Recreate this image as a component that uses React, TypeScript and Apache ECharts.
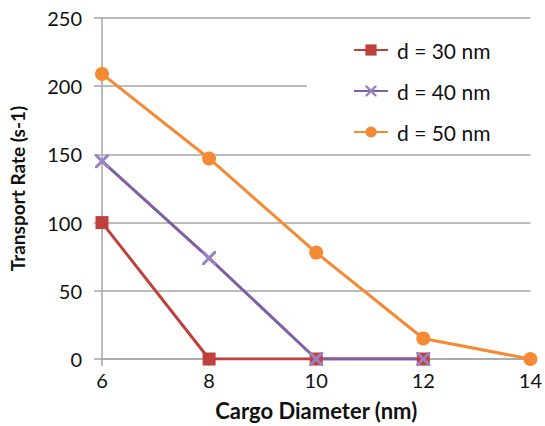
import React, { useEffect, useRef } from "react";
import * as echarts from "echarts";

const xValues = [6, 8, 10, 12, 14];
const seriesNames = ["d = 30 nm", "d = 40 nm", "d = 50 nm"];
const d30 = [100, 0, 0, 0];
const d40 = [145, 74, 0, 0];
const d50 = [209, 147, 78, 15, 0];
const colors = ["#C0403D", "#7E5FA3", "#F58A35"];

const xPath =
  "path://M0,0 L3,0 L10,7 L17,0 L20,0 L20,3 L13,10 L20,17 L20,20 L17,20 L10,13 L3,20 L0,20 L0,17 L7,10 L0,3 Z";

const pair = (vals: number[]) => vals.map((v, i) => [xValues[i], v]);

export default function App() {
  const ref = useRef<HTMLDivElement>(null);
  useEffect(() => {
    if (!ref.current) return;
    const chart = echarts.init(ref.current, undefined, { renderer: "svg" });
    const font = "Lato, 'Open Sans', sans-serif";
    chart.setOption({
      animation: false,
      backgroundColor: "#fff",
      grid: { left: 101, right: 13, top: 18, bottom: 67 },
      legend: {
        orient: "vertical",
        left: 307,
        top: 30,
        padding: [8, 60, 4, 46],
        backgroundColor: "#fff",
        itemWidth: 34,
        itemHeight: 14,
        itemGap: 17,
        textStyle: {
          fontFamily: font,
          fontSize: 21,
          lineHeight: 24,
          color: "#111",
          padding: [0, 0, 0, 4],
        },
        data: seriesNames,
      },
      xAxis: {
        type: "value",
        min: 6,
        max: 14,
        interval: 2,
        name: "Cargo Diameter (nm)",
        nameLocation: "middle",
        nameGap: 40,
        nameTextStyle: { fontFamily: font, fontSize: 22, fontWeight: "bold", color: "#111" },
        axisLine: { show: true, lineStyle: { color: "#A6A6A6", width: 1.5 } },
        axisTick: { show: true, length: 7, lineStyle: { color: "#A6A6A6", width: 1.5 } },
        axisLabel: { fontFamily: font, fontSize: 20, color: "#111", margin: 11 },
        splitLine: { show: false },
      },
      yAxis: {
        type: "value",
        min: 0,
        max: 250,
        interval: 50,
        name: "Transport Rate (s-1)",
        nameLocation: "middle",
        nameGap: 75,
        nameTextStyle: { fontFamily: font, fontSize: 19, fontWeight: "bold", color: "#111" },
        axisLine: { show: true, lineStyle: { color: "#A6A6A6", width: 1.5 } },
        axisTick: { show: true, length: 8, lineStyle: { color: "#A6A6A6", width: 1.5 } },
        axisLabel: { fontFamily: font, fontSize: 20, color: "#111", margin: 20 },
        splitLine: { show: true, lineStyle: { color: "#A6A6A6", width: 1.5 } },
      },
      series: [
        {
          name: seriesNames[0],
          type: "line",
          data: pair(d30),
          symbol: "rect",
          symbolSize: 13,
          lineStyle: { color: colors[0], width: 3 },
          itemStyle: { color: colors[0] },
        },
        {
          name: seriesNames[1],
          type: "line",
          data: pair(d40),
          symbol: xPath,
          symbolSize: 14,
          lineStyle: { color: colors[1], width: 3 },
          itemStyle: { color: "#9A82C2" },
        },
        {
          name: seriesNames[2],
          type: "line",
          data: pair(d50),
          symbol: "circle",
          symbolSize: 14,
          lineStyle: { color: colors[2], width: 3 },
          itemStyle: { color: colors[2] },
        },
      ],
    });
    return () => chart.dispose();
  }, []);
  return (
    <div
      ref={ref}
      style={{ position: "fixed", left: 0, top: 0, width: 545, height: 426 }}
    />
  );
}
